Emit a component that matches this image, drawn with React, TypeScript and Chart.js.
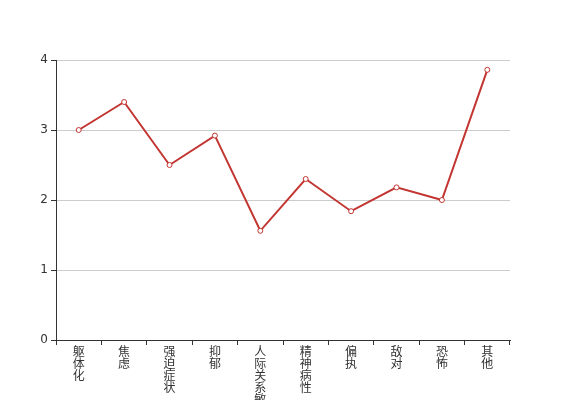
import React, { useEffect, useRef } from "react";
import { Chart, registerables } from "chart.js";

Chart.register(...registerables);

const categories = ["躯体化", "焦虑", "强迫症状", "抑郁", "人际关系敏感", "精神病性", "偏执", "敌对", "恐怖", "其他"];
const values = [3.0, 3.4, 2.5, 2.92, 1.56, 2.3, 1.84, 2.18, 2.0, 3.86];
const yTicks = [0, 1, 2, 3, 4];

export default function App() {
  const ref = useRef<HTMLCanvasElement | null>(null);
  useEffect(() => {
    document.body.style.margin = "0";
    const ctx = ref.current!;
    const font = { family: "'DejaVu Sans', 'Noto Sans CJK SC', sans-serif", size: 12, lineHeight: 1 };
    const chart = new Chart(ctx, {
      type: "line",
      data: {
        labels: categories.map((c) => c.split("")),
        datasets: [
          {
            data: values,
            borderColor: "#c23531",
            borderWidth: 2,
            backgroundColor: "#fff",
            pointBackgroundColor: "#fff",
            pointBorderColor: "#c23531",
            pointBorderWidth: 1,
            pointRadius: 2.5,
            tension: 0,
            fill: false,
          },
        ],
      },
      options: {
        responsive: false,
        animation: false,
        layout: { padding: { left: 0, right: 57, top: 60, bottom: 0 } },
        plugins: { legend: { display: false }, tooltip: { enabled: false } },
        scales: {
          x: {
            type: "category",
            offset: true,
            grid: { offset: true, drawOnChartArea: false, tickLength: 5, color: "#333", tickColor: "#333" },
            border: { display: true, color: "#333", width: 1 },
            ticks: { color: "#333", font, maxRotation: 0, minRotation: 0, autoSkip: false, padding: 2 },
            afterFit: (s: any) => { s.height = 60; },
          },
          y: {
            min: 0,
            max: 4,
            afterBuildTicks: (s: any) => { s.ticks = yTicks.map((v) => ({ value: v })); },
            grid: { color: "#ccc", tickLength: 5, tickColor: "#333" },
            border: { display: true, color: "#333", width: 1 },
            ticks: { color: "#333", font, padding: 3 },
            afterFit: (s: any) => { s.width = 56; },
          },
        },
      },
    });
    return () => chart.destroy();
  }, []);
  return <canvas ref={ref} width={567} height={400} style={{ display: "block" }} />;
}
